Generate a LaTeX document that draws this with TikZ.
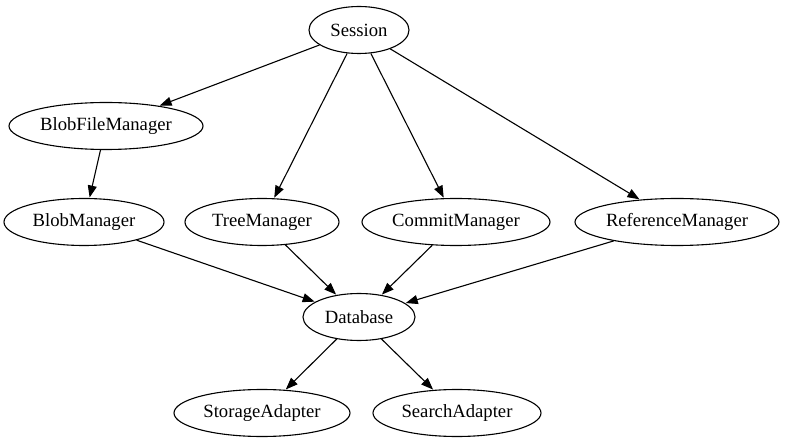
\documentclass[tikz,border=0pt]{standalone}
\usepackage{fontspec}
\setmainfont{Liberation Serif}
\usetikzlibrary{shapes.geometric,arrows.meta}
\begin{document}
\begin{tikzpicture}[x=1pt,y=-1pt,
  nd/.style={ellipse,draw,line width=1.1pt,inner sep=0pt,minimum height=47pt,font=\fontsize{18.67}{22}\selectfont},
  ed/.style={line width=1.1pt,-{Triangle[length=12pt,width=9pt]},shorten >=0.5pt}]
\useasboundingbox (0,0) rectangle (787,443);
\node[nd,minimum width=100pt] (ses) at (359,30) {Session};
\node[nd,minimum width=194pt] (bfm) at (106,126) {BlobFileManager};
\node[nd,minimum width=160pt] (bm) at (84,222) {BlobManager};
\node[nd,minimum width=154pt] (tm) at (262,222) {TreeManager};
\node[nd,minimum width=188pt] (cm) at (456,222) {CommitManager};
\node[nd,minimum width=204pt] (rm) at (677,222) {ReferenceManager};
\node[nd,minimum width=112pt] (db) at (359,317) {Database};
\node[nd,minimum width=176pt] (sa) at (262,413) {StorageAdapter};
\node[nd,minimum width=168pt] (sr) at (457,413) {SearchAdapter};
\draw[ed] (ses) -- (bfm);
\draw[ed] (ses) -- (tm);
\draw[ed] (ses) -- (cm);
\draw[ed] (ses) -- (rm);
\draw[ed] (bfm) -- (bm);
\draw[ed] (bm) -- (db);
\draw[ed] (tm) -- (db);
\draw[ed] (cm) -- (db);
\draw[ed] (rm) -- (db);
\draw[ed] (db) -- (sa);
\draw[ed] (db) -- (sr);
\end{tikzpicture}
\end{document}
